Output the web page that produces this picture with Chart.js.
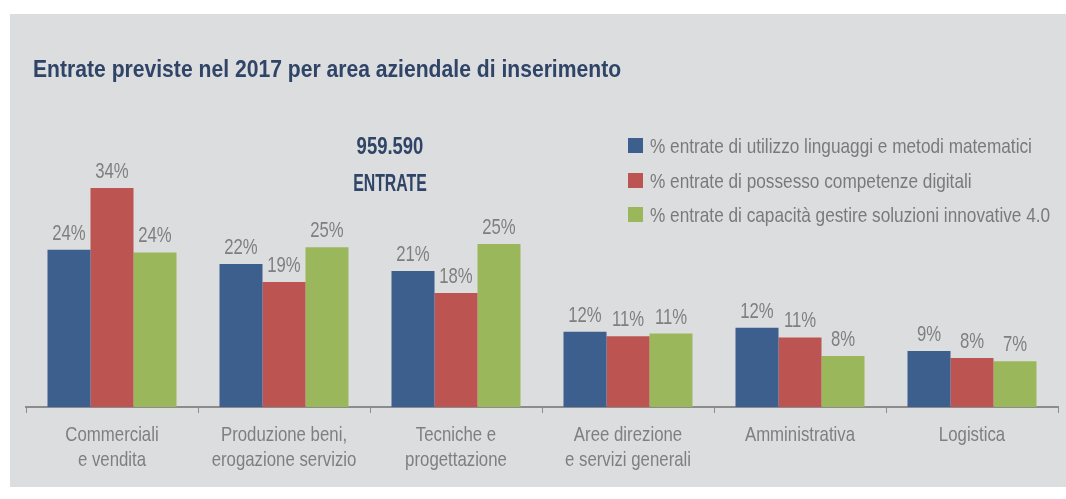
<!DOCTYPE html>
<html lang="it">
<head>
<meta charset="utf-8">
<title>Entrate previste nel 2017 per area aziendale di inserimento</title>
<script src="https://cdn.jsdelivr.net/npm/chart.js@4/dist/chart.umd.min.js"></script>
<style>
  html, body { margin: 0; padding: 0; background: #ffffff; }
  body { width: 1066px; height: 499px; position: relative; overflow: hidden; }
  #wrap {
    position: absolute;
    left: 10px; top: 14px;
    width: 1056px; height: 473px;
    background: #dcdddf;
  }
  #wrap canvas { display: block; }
</style>
</head>
<body>
<div id="wrap"><canvas id="areaChart" width="1056" height="473"></canvas></div>
<script>
  const FONT = '"Liberation Sans", Arial, sans-serif';

  const chartTitle = "Entrate previste nel 2017 per area aziendale di inserimento";
  const totalLines = ["959.590", "ENTRATE"];

  const categories = [
    ["Commerciali", "e vendita"],
    ["Produzione beni,", "erogazione servizio"],
    ["Tecniche e", "progettazione"],
    ["Aree direzione", "e servizi generali"],
    ["Amministrativa"],
    ["Logistica"]
  ];

  const seriesLabels = [
    "% entrate di utilizzo linguaggi e metodi matematici",
    "% entrate di possesso competenze digitali",
    "% entrate di capacità gestire soluzioni innovative 4.0"
  ];

  const mathValues = [24.4, 22.2, 21.1, 11.7, 12.3, 8.7];
  const digitalValues = [34.0, 19.4, 17.7, 11.0, 10.8, 7.6];
  const innovationValues = [24.0, 24.8, 25.3, 11.4, 7.9, 7.1];

  const seriesColors = ["#3c5f8e", "#bc5452", "#9bb75c"];

  // no condensed font installed: squeeze the text horizontally
  function narrowText(ctx, text, x, y, sx, align) {
    ctx.save();
    ctx.translate(x, y);
    ctx.scale(sx, 1);
    ctx.textAlign = align;
    ctx.fillText(text, 0, 0);
    ctx.restore();
  }

  // percentuali sopra le barre
  const valueLabels = {
    id: "valueLabels",
    afterDatasetsDraw(chart) {
      const ctx = chart.ctx;
      ctx.save();
      ctx.font = "22px " + FONT;
      ctx.fillStyle = "#7f7f7f";
      ctx.textBaseline = "alphabetic";
      chart.data.datasets.forEach((ds, i) => {
        chart.getDatasetMeta(i).data.forEach((bar, j) => {
          narrowText(ctx, Math.round(ds.data[j]) + "%", bar.x, bar.y - 10, 0.76, "center");
        });
      });
      ctx.restore();
    }
  };

  // etichette categorie sotto l'asse
  const categoryLabels = {
    id: "categoryLabels",
    afterDraw(chart) {
      const ctx = chart.ctx;
      const xScale = chart.scales.x;
      const top = xScale.top;
      ctx.save();
      ctx.font = "21px " + FONT;
      ctx.fillStyle = "#7f7f7f";
      ctx.textBaseline = "alphabetic";
      chart.data.labels.forEach((lines, i) => {
        const x = xScale.getPixelForTick(i);
        lines.forEach((line, k) => {
          narrowText(ctx, line, x, top + 34 + k * 25.3, 0.8, "center");
        });
      });
      ctx.restore();
    }
  };

  // titolo, totale entrate e legenda
  const overlay = {
    id: "overlay",
    afterDraw(chart) {
      const ctx = chart.ctx;
      ctx.save();

      ctx.fillStyle = "#2f4467";
      ctx.textBaseline = "alphabetic";
      ctx.font = "bold 24px " + FONT;
      narrowText(ctx, chartTitle, 23, 63, 0.88, "left");

      narrowText(ctx, totalLines[0], 380, 140, 0.77, "center");
      narrowText(ctx, totalLines[1], 380, 177, 0.66, "center");

      ctx.font = "21px " + FONT;
      const rows = [131, 166, 200];
      chart.data.datasets.forEach((ds, i) => {
        ctx.fillStyle = ds.backgroundColor;
        ctx.fillRect(618, rows[i] - 7, 15, 15);
        ctx.fillStyle = "#7a7a7a";
        narrowText(ctx, ds.label, 640, rows[i] + 8, 0.82, "left");
      });

      ctx.restore();
    }
  };

  const ctx = document.getElementById("areaChart").getContext("2d");

  new Chart(ctx, {
    type: "bar",
    data: {
      labels: categories,
      datasets: [
        { label: seriesLabels[0], data: mathValues, backgroundColor: seriesColors[0] },
        { label: seriesLabels[1], data: digitalValues, backgroundColor: seriesColors[1] },
        { label: seriesLabels[2], data: innovationValues, backgroundColor: seriesColors[2] }
      ]
    },
    options: {
      responsive: false,
      animation: false,
      devicePixelRatio: 1,
      categoryPercentage: 0.75,
      barPercentage: 1.0,
      layout: {
        padding: { left: 16, right: 8, top: 71, bottom: 0 }
      },
      plugins: {
        legend: { display: false },
        title: { display: false },
        tooltip: { enabled: false }
      },
      scales: {
        x: {
          offset: true,
          grid: {
            offset: true,
            drawOnChartArea: false,
            drawTicks: true,
            tickLength: 6,
            tickColor: "#8c8c8c",
            tickWidth: 1
          },
          border: {
            display: true,
            color: "#8c8c8c",
            width: 2
          },
          ticks: {
            display: false
          },
          afterFit(scale) {
            scale.height = 80;
          }
        },
        y: {
          display: false,
          min: 0,
          max: 50
        }
      }
    },
    plugins: [valueLabels, categoryLabels, overlay]
  });
</script>
</body>
</html>
